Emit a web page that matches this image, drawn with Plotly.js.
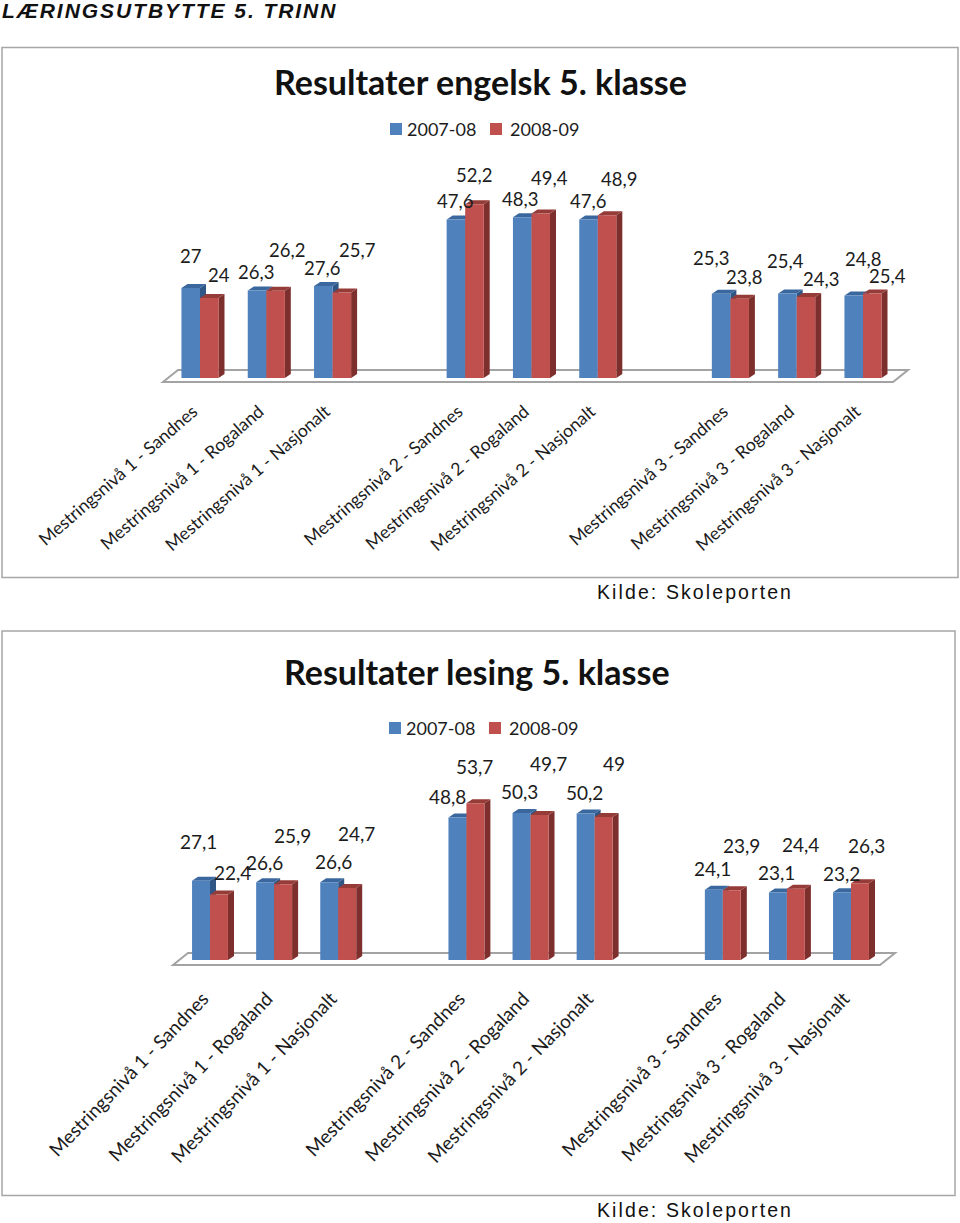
<!DOCTYPE html>
<html><head><meta charset="utf-8">
<script src="https://cdn.plot.ly/plotly-3.0.1.min.js"></script>
<style>
html,body{margin:0;padding:0;background:#fff}
text[data-unformatted*="LÆRINGS"]{letter-spacing:1.95px}
text[data-unformatted^="Kilde"]{letter-spacing:2.1px}
</style></head><body><div id="chart" style="width:960px;height:1223px"></div>
<script>
const categories = ["Mestringsnivå 1 - Sandnes","Mestringsnivå 1 - Rogaland","Mestringsnivå 1 - Nasjonalt",
  "Mestringsnivå 2 - Sandnes","Mestringsnivå 2 - Rogaland","Mestringsnivå 2 - Nasjonalt",
  "Mestringsnivå 3 - Sandnes","Mestringsnivå 3 - Rogaland","Mestringsnivå 3 - Nasjonalt"];
const slots = [0,1,2,4,5,6,8,9,10];
const seriesNames = ["2007-08","2008-09"];
const engelsk0708 = [27,26.3,27.6,47.6,48.3,47.6,25.3,25.4,24.8];
const engelsk0809 = [24,26.2,25.7,52.2,49.4,48.9,23.8,24.3,25.4];
const lesing0708 = [27.1,26.6,26.6,48.8,50.3,50.2,24.1,23.1,23.2];
const lesing0809 = [22.4,25.9,24.7,53.7,49.7,49,23.9,24.4,26.3];
const pageTitle = "LÆRINGSUTBYTTE 5. TRINN";
const titleEngelsk = "Resultater engelsk 5. klasse";
const titleLesing = "Resultater lesing 5. klasse";
const source = "Kilde: Skoleporten";

// label placement (pixel offsets from each bar top), blue/red alternating by category
const engelskShiftX = [0,10,-1,11,-1,15,-1,0,-2,9,-1,12,-10,4,-2,15,9,15];
const engelskShiftY = [32,23,18,41,18,42,18,29,18,35,18,36,36,22,32,18,36,17];
const lesingShiftX = [-3,13,-1,9,4,9,-10,-1,-2,9,-1,10,-1,10,-1,5,-1,6];
const lesingShiftY = [39,22,20,49,21,54,21,37,22,51,21,53,21,45,20,44,19,38];

const W=960,H=1223;
const px=v=>v/W, py=v=>1-v/H;
const blue="#4F81BD",red="#C0504D",blueSide="#2F5684",redSide="#7D2F2D",blueTop="#3A689E",redTop="#953B38";
const ink="#1c1c1c";

const shapes=[],annotations=[],traces=[];
function fmt(v){return String(v).replace('.',',');}

function addChart(o){
  const xs=o.xName, ys=o.yName;
  const xr=[(o.left-o.origin)/o.unit,(o.right-o.origin)/o.unit];
  const yr=[(o.base-o.bottom)/o.k,(o.base-o.top)/o.k];
  const dx=o.depthX/o.unit, dy=o.depthY/o.k, w=o.barW/o.unit;
  const axX={domain:[px(o.left),px(o.right)],range:xr,anchor:o.yId,tickmode:'array',tickvals:slots,ticktext:categories,
    tickangle:o.angle,ticks:'',showgrid:false,zeroline:false,showline:false,ticklabelshift:o.tickShift,
    tickfont:{family:'Lato',size:o.tickSize,color:ink}};
  const axY={domain:[py(o.bottom),py(o.top)],range:yr,anchor:o.xId,visible:false,showgrid:false,zeroline:false};
  layout[xs]=axX;layout[ys]=axY;
  // frame
  shapes.push({type:'rect',xref:'paper',yref:'paper',x0:px(o.frame[0]),x1:px(o.frame[2]),y0:py(o.frame[3]),y1:py(o.frame[1]),line:{color:'#a6a6a6',width:1.5},layer:'below'});
  // floor
  const fl=o.floor;
  const fx=p=>(p-o.origin)/o.unit, fy=p=>(o.base-p)/o.k;
  shapes.push({type:'path',xref:o.xId,yref:o.yId,layer:'below',line:{color:'#a3a3a3',width:2},fillcolor:'rgba(0,0,0,0)',
    path:`M${fx(fl[0])},${fy(fl[3])}L${fx(fl[1])},${fy(fl[2])}L${fx(fl[4])},${fy(fl[2])}L${fx(fl[5])},${fy(fl[3])}Z`});
  [[o.a,0,blue,blueSide,blueTop],[o.b,1,red,redSide,redTop]].forEach(([vals,si,col,side,top])=>{
    traces.push({type:'bar',x:slots,y:vals,name:seriesNames[si],xaxis:o.xId,yaxis:o.yId,marker:{color:col},showlegend:false,hoverinfo:'x+y'});
    vals.forEach((v,i)=>{
      const l=slots[i]+(si?0:-w), r=slots[i]+(si?w:0);
      shapes.push({type:'path',xref:o.xId,yref:o.yId,layer:'below',line:{width:0},fillcolor:side,
        path:`M${r},0L${r+dx},${dy}L${r+dx},${v+dy}L${r},${v}Z`});
      shapes.push({type:'path',xref:o.xId,yref:o.yId,layer:'below',line:{width:0},fillcolor:top,
        path:`M${l},${v}L${l+dx},${v+dy}L${r+dx},${v+dy}L${r},${v}Z`});
      annotations.push({xref:o.xId,yref:o.yId,x:(l+r)/2,y:v,text:fmt(v),showarrow:false,xanchor:'center',yanchor:'middle',
        xshift:o.sx[i*2+si],yshift:o.sy[i*2+si],font:{family:'Lato',size:o.labelSize,color:ink}});
    });
  });
  // chart title
  annotations.push({xref:'paper',yref:'paper',x:px(o.titleX),y:py(o.titleY),text:'<b>'+o.title+'</b>',showarrow:false,xanchor:'center',yanchor:'middle',font:{family:'Lato',size:o.titleSize,color:'#111'}});
  // legend
  seriesNames.forEach((n,i)=>{
    const sw=o.legendX[i];
    shapes.push({type:'rect',xref:'paper',yref:'paper',x0:px(sw),x1:px(sw+12),y0:py(o.legendY+6),y1:py(o.legendY-6),fillcolor:i?red:blue,line:{width:0}});
    annotations.push({xref:'paper',yref:'paper',x:px(sw+(i?18:15)),y:py(o.legendY),text:n,showarrow:false,xanchor:'left',yanchor:'middle',font:{family:'Lato',size:o.legendSize,color:ink}});
  });
  // source
  annotations.push({xref:'paper',yref:'paper',x:px(594.5),y:py(o.sourceY),text:source,showarrow:false,xanchor:'left',yanchor:'middle',font:{family:'Liberation Sans',size:19.5,color:'#111'}});
}

const layout={width:W,height:H,margin:{l:0,r:0,t:0,b:0},paper_bgcolor:'#fff',plot_bgcolor:'rgba(0,0,0,0)',barmode:'group',bargap:0.44,bargroupgap:0,showlegend:false,shapes,annotations};

addChart({xName:'xaxis',yName:'yaxis',xId:'x',yId:'y',left:100,right:930,top:150,bottom:397,origin:200,unit:66.3,base:378,k:3.33,
  depthX:6,depthY:4,barW:18.5,angle:-41,tickSize:17.6,tickShift:-7,labelSize:18.5,a:engelsk0708,b:engelsk0809,sx:engelskShiftX,sy:engelskShiftY,
  frame:[2,47.5,958,577.5],floor:[163,178,370,382,908,893],title:titleEngelsk,titleX:480,titleY:82,titleSize:34,legendX:[390,490],legendY:129,legendSize:18,sourceY:592});
addChart({xName:'xaxis2',yName:'yaxis2',xId:'x2',yId:'y2',left:100,right:930,top:740,bottom:983,origin:210,unit:64.1,base:960,k:2.92,
  depthX:6,depthY:4,barW:18,angle:-46,tickSize:19,tickShift:-7,labelSize:19,a:lesing0708,b:lesing0809,sx:lesingShiftX,sy:lesingShiftY,
  frame:[2,631,955,1195.5],floor:[173,188,953,965,895,880],title:titleLesing,titleX:477,titleY:671,titleSize:34,legendX:[389,489],legendY:728,legendSize:18,sourceY:1210});
annotations.push({xref:'paper',yref:'paper',x:0,y:py(11),text:'<b><i>'+pageTitle+'</i></b>',showarrow:false,xanchor:'left',yanchor:'middle',font:{family:'Liberation Sans',size:21,color:'#111'}});

Plotly.newPlot('chart',traces,layout,{displayModeBar:false,responsive:false});
</script></body></html>
